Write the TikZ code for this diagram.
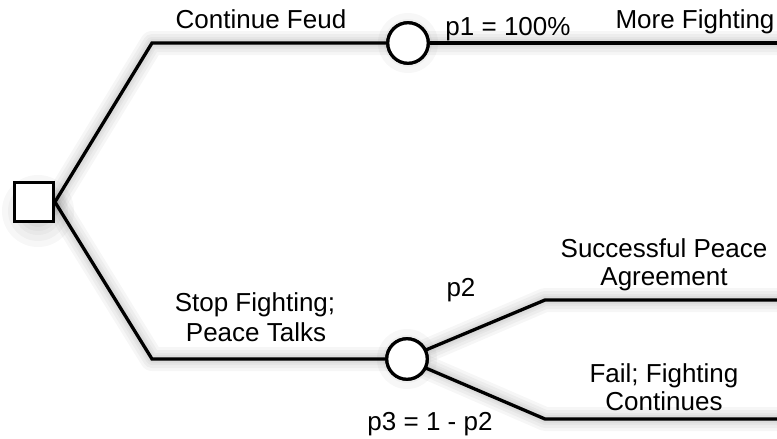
\documentclass[tikz,border=0pt]{standalone}
\usepackage{fontspec}
\setmainfont{Liberation Sans}
\begin{document}
\begin{tikzpicture}[x=1pt,y=-1pt,
  branch/.style={line width=3.3pt,line join=miter,black},
  shadowline/.style={line width=#1,black,opacity=0.035,line join=round,line cap=round},
  decision/.style={draw=black,line width=3.4pt,fill=white,rectangle,minimum size=38.5pt,inner sep=0pt},
  chance/.style={draw=black,line width=3.2pt,fill=white,circle,minimum size=40.5pt,inner sep=0pt},
  lbl/.style={font=\fontsize{26pt}{29pt}\selectfont,anchor=base,inner sep=0pt}]
\useasboundingbox (0,0) rectangle (777,439);
% coordinates
\coordinate (t1) at (152,43);
\coordinate (tEnd) at (777,43);
\coordinate (b1) at (152,359);
\coordinate (u1) at (545,300);
\coordinate (uEnd) at (777,300);
\coordinate (l1) at (545,419);
\coordinate (lEnd) at (777,419);
\coordinate (sqE) at (55,202);
\coordinate (c1p) at (408,43);
\coordinate (c2p) at (407,359);
% soft shadows
\begin{scope}[shift={(4,9)}]
\foreach \w in {24pt,18pt,12pt,8pt,4pt}{
  \draw[shadowline=\w] (34,202) -- (sqE) -- (t1) -- (tEnd);
  \draw[shadowline=\w] (sqE) -- (b1) -- (c2p) -- (u1) -- (uEnd);
  \draw[shadowline=\w] (c2p) -- (l1) -- (lEnd);
  \fill[black,opacity=0.03] (34,202) circle (\w+12pt);
  \fill[black,opacity=0.03] (c1p) circle (\w+6pt);
  \fill[black,opacity=0.03] (c2p) circle (\w+6pt);
}
\end{scope}
% nodes
\node[decision] (sq) at (34,202) {};
\node[chance] (c1) at (c1p) {};
\node[chance] (c2) at (c2p) {};
% connectors
\draw[branch] (sq.east) -- (t1) -- (c1.west);
\draw[branch] (c1.east) -- (tEnd);
\draw[branch] (sq.east) -- (b1) -- (c2.west);
\draw[branch] (c2) ++(14,-7) -- (u1) -- (uEnd);
\draw[branch] (c2) ++(14,7) -- (l1) -- (lEnd);
\node[decision] at (34,202) {};
\node[chance] at (c1p) {};
\node[chance] at (c2p) {};
% labels
\node[lbl] (lcf) at (261,28) {Continue Feud};
\node[lbl] (lp1) at (508,35) {p1 = 100\%};
\node[lbl] (lmf) at (695,28) {More Fighting};
\node[lbl] (lsp1) at (664,257) {Successful Peace};
\node[lbl] (lsp2) at (664,285) {Agreement};
\node[lbl] (lp2) at (461,296) {p2};
\node[lbl] (lsf1) at (255,311) {Stop Fighting;};
\node[lbl] (lsf2) at (256,341) {Peace Talks};
\node[lbl] (lff1) at (664,382) {Fail; Fighting};
\node[lbl] (lff2) at (664,410) {Continues};
\node[lbl] (lp3) at (430,430) {p3 = 1 - p2};
\end{tikzpicture}
\end{document}
